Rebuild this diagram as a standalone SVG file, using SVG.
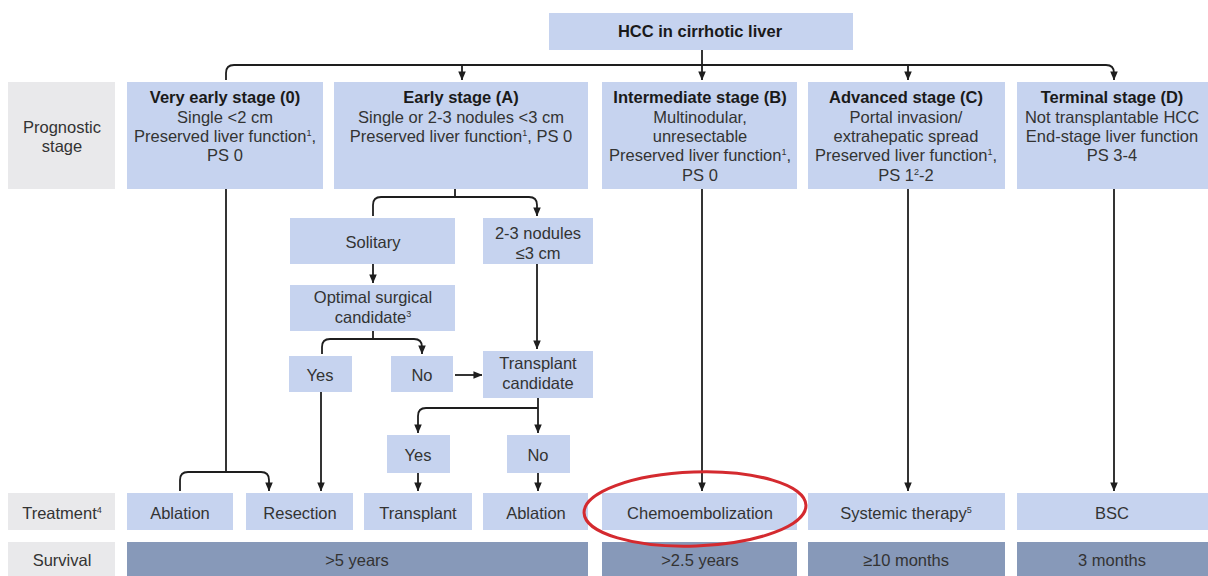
<svg xmlns="http://www.w3.org/2000/svg" width="1208" height="576" viewBox="0 0 1208 576">
<defs>
<marker id="arr" viewBox="0 0 10 10" markerWidth="9" markerHeight="10" refX="9.5" refY="5" orient="auto" markerUnits="userSpaceOnUse">
<path d="M0,0.8 L10,5 L0,9.2 z" fill="#1e1e1e"/>
</marker>
<style>
.box{fill:#c6d3ef}
.lab{fill:#e9e9eb}
.surv{fill:#8799b9}
text{font-family:"Liberation Sans",Arial,sans-serif;font-size:16.5px;fill:#333333;text-anchor:middle}
.b{font-weight:bold;fill:#1a1a1a}
.sup{font-size:9px}
.ln{fill:none;stroke:#1e1e1e;stroke-width:1.8}
.ar{marker-end:url(#arr)}
</style>
</defs>
<rect width="1208" height="576" fill="#ffffff"/>

<g id="connectors">
<path class="ln ar" d="M702,50 V80"/>
<path class="ln ar" d="M226,80 V73 Q226,65 234,65 H1106 Q1114,65 1114,73 V80"/>
<path class="ln ar" d="M462,65 V80"/>
<path class="ln ar" d="M908,65 V80"/>
<path class="ln" d="M455,189 V197"/>
<path class="ln ar" d="M373,216 V205 Q373,197 381,197 H529 Q537,197 537,205 V216"/>
<path class="ln ar" d="M373,264 V283"/>
<path class="ln" d="M373,331 V339"/>
<path class="ln ar" d="M322,354 V347 Q322,339 330,339 H414 Q422,339 422,347 V354"/>
<path class="ln ar" d="M455,375 H482"/>
<path class="ln ar" d="M537,264 V349"/>
<path class="ln ar" d="M538,398 V433"/>
<path class="ln ar" d="M538,408 H426 Q418,408 418,416 V433"/>
<path class="ln ar" d="M418,473 V491"/>
<path class="ln ar" d="M538,473 V491"/>
<path class="ln ar" d="M321,392 V491"/>
<path class="ln" d="M226,189 V472"/>
<path class="ln ar" d="M180,491 V480 Q180,472 188,472 H261 Q269,472 269,480 V491"/>
<path class="ln ar" d="M702,189 V491"/>
<path class="ln ar" d="M908,189 V491"/>
<path class="ln ar" d="M1114,189 V491"/>
</g>

<g id="hcc"><rect class="box" x="549" y="13" width="304" height="37"/><text class="b" x="700" y="37">HCC in cirrhotic liver</text></g>

<g id="label-prognostic"><rect class="lab" x="8" y="82" width="107" height="107"/><text x="62" y="133">Prognostic</text><text x="62" y="152">stage</text></g>

<g id="stage-0"><rect class="box" x="127" y="82" width="196" height="107"/>
<text class="b" x="225" y="103">Very early stage (0)</text>
<text x="225" y="123">Single &lt;2 cm</text>
<text x="225" y="142">Preserved liver function<tspan class="sup" dy="-6">1</tspan><tspan dy="6">,</tspan></text>
<text x="225" y="161">PS 0</text></g>

<g id="stage-a"><rect class="box" x="334" y="82" width="254" height="107"/>
<text class="b" x="461" y="103">Early stage (A)</text>
<text x="461" y="123">Single or 2-3 nodules &lt;3 cm</text>
<text x="461" y="142">Preserved liver function<tspan class="sup" dy="-6">1</tspan><tspan dy="6">, PS 0</tspan></text></g>

<g id="stage-b"><rect class="box" x="602" y="82" width="195" height="107"/>
<text class="b" x="700" y="103">Intermediate stage (B)</text>
<text x="700" y="123">Multinodular,</text>
<text x="700" y="142">unresectable</text>
<text x="700" y="161">Preserved liver function<tspan class="sup" dy="-6">1</tspan><tspan dy="6">,</tspan></text>
<text x="700" y="181">PS 0</text></g>

<g id="stage-c"><rect class="box" x="808" y="82" width="197" height="107"/>
<text class="b" x="906" y="103">Advanced stage (C)</text>
<text x="906" y="123">Portal invasion/</text>
<text x="906" y="142">extrahepatic spread</text>
<text x="906" y="161">Preserved liver function<tspan class="sup" dy="-6">1</tspan><tspan dy="6">,</tspan></text>
<text x="906" y="181">PS 1<tspan class="sup" dy="-6">2</tspan><tspan dy="6">-2</tspan></text></g>

<g id="stage-d"><rect class="box" x="1017" y="82" width="191" height="107"/>
<text class="b" x="1112" y="103">Terminal stage (D)</text>
<text x="1112" y="123">Not transplantable HCC</text>
<text x="1112" y="142">End-stage liver function</text>
<text x="1112" y="161">PS 3-4</text></g>

<g id="solitary"><rect class="box" x="290" y="218" width="165" height="46"/><text x="373" y="248">Solitary</text></g>
<g id="nodules"><rect class="box" x="483" y="218" width="110" height="46"/><text x="538" y="239">2-3 nodules</text><text x="538" y="259">≤3 cm</text></g>
<g id="optimal"><rect class="box" x="290" y="285" width="165" height="46"/><text x="373" y="303">Optimal surgical</text><text x="373" y="323">candidate<tspan class="sup" dy="-6">3</tspan></text></g>
<g id="yes1"><rect class="box" x="289" y="356" width="63" height="36"/><text x="320" y="381">Yes</text></g>
<g id="no1"><rect class="box" x="391" y="356" width="62" height="36"/><text x="422" y="381">No</text></g>
<g id="transplant-candidate"><rect class="box" x="483" y="351" width="110" height="47"/><text x="538" y="369">Transplant</text><text x="538" y="389">candidate</text></g>
<g id="yes2"><rect class="box" x="387" y="435" width="63" height="38"/><text x="418" y="461">Yes</text></g>
<g id="no2"><rect class="box" x="507" y="435" width="63" height="38"/><text x="538" y="461">No</text></g>

<g id="label-treatment"><rect class="lab" x="8" y="493" width="107" height="37"/><text x="62" y="519">Treatment<tspan class="sup" dy="-6">4</tspan></text></g>
<g id="t-ablation1"><rect class="box" x="127" y="493" width="106" height="37"/><text x="180" y="519">Ablation</text></g>
<g id="t-resection"><rect class="box" x="246" y="493" width="107" height="37"/><text x="300" y="519">Resection</text></g>
<g id="t-transplant"><rect class="box" x="364" y="493" width="108" height="37"/><text x="418" y="519">Transplant</text></g>
<g id="t-ablation2"><rect class="box" x="483" y="493" width="105" height="37"/><text x="536" y="519">Ablation</text></g>
<g id="t-chemo"><rect class="box" x="602" y="493" width="195" height="37"/><text x="700" y="519">Chemoembolization</text></g>
<g id="t-systemic"><rect class="box" x="808" y="493" width="197" height="37"/><text x="906" y="519">Systemic therapy<tspan class="sup" dy="-6">5</tspan></text></g>
<g id="t-bsc"><rect class="box" x="1017" y="493" width="191" height="37"/><text x="1112" y="519">BSC</text></g>

<g id="label-survival"><rect class="lab" x="8" y="542" width="107" height="34"/><text x="62" y="566">Survival</text></g>
<g id="s-5y"><rect class="surv" x="127" y="542" width="461" height="34"/><text x="357" y="566">&gt;5 years</text></g>
<g id="s-25y"><rect class="surv" x="602" y="542" width="195" height="34"/><text x="700" y="566">&gt;2.5 years</text></g>
<g id="s-10m"><rect class="surv" x="808" y="542" width="197" height="34"/><text x="906" y="566">≥10 months</text></g>
<g id="s-3m"><rect class="surv" x="1017" y="542" width="191" height="34"/><text x="1112" y="566">3 months</text></g>

<ellipse cx="695" cy="509" rx="111" ry="37" transform="rotate(-2 695 509)" fill="none" stroke="#d42a2f" stroke-width="3"/>
</svg>
